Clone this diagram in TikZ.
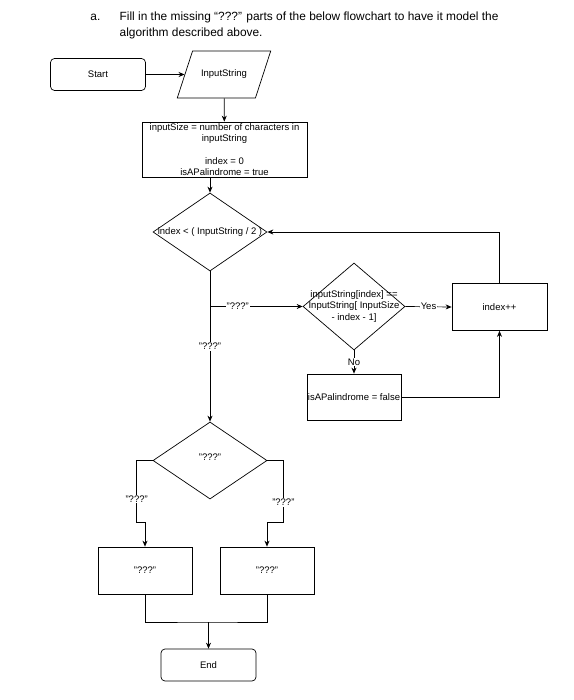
\documentclass[tikz,border=0pt]{standalone}
\usepackage{fontspec}
\setmainfont{Liberation Sans}
\usetikzlibrary{shapes.geometric,arrows.meta}
\begin{document}
\begin{tikzpicture}[x=1pt,y=-1pt,line width=0.7pt,
	font=\fontsize{9.5}{11.2}\selectfont,
	term/.style={draw,rounded corners=4pt,minimum width=95pt,minimum height=32pt,inner sep=0pt},
	proc/.style={draw,minimum width=95pt,minimum height=47pt,inner sep=0pt,align=center},
	io/.style={draw,trapezium,trapezium left angle=72,trapezium right angle=108,inner xsep=8.5pt,inner ysep=19pt},
	dec/.style={draw,diamond,inner sep=0pt},
	lbl/.style={fill=white,inner sep=1pt},
	arr/.style={-{Stealth[length=6pt,width=5pt]}}]
	\useasboundingbox (0,0) rectangle (573,700);
	\node[anchor=base east,font=\fontsize{11.9}{16}\selectfont] (qa) at (104,21) {a.};
	\node[anchor=base west,font=\fontsize{11.9}{16}\selectfont] (q1) at (116,21) {Fill in the missing “???” parts of the below flowchart to have it model the};
	\node[anchor=base west,font=\fontsize{11.9}{16}\selectfont] (q2) at (116,37) {algorithm described above.};
	\node[term] (start) at (98,74.5) {Start};
	\node[io] (input) at (224,74.5) {InputString};
	\node[proc,minimum width=165pt,minimum height=55pt] (init) at (224.5,149.5) {inputSize = number of characters in\\inputString\\[11.2pt]index = 0\\isAPalindrome = true};
	\node[dec,minimum width=114pt,minimum height=78pt,label={center:index < ( InputString / 2 )}] (loop) at (210,232) {};
	\node[dec,minimum width=102pt,minimum height=87pt,label={[align=center]center:{inputString[index] ==\\InputString[ InputSize\\- index - 1]}}] (check) at (354,306.5) {};
	\node[proc] (inc) at (499.5,307) {index++};
	\node[proc,minimum width=94pt,minimum height=46pt] (flag) at (354,397) {isAPalindrome = false};
	\node[dec,minimum width=114pt,minimum height=77pt,label={[yshift=3pt]center:"???"}] (cond) at (210,460.5) {};
	\node[proc,minimum width=94pt] (left) at (145,570.5) {"???"};
	\node[proc,minimum width=94pt] (right) at (267,570.5) {"???"};
	\node[term] (end) at (208.5,665) {End};
	\coordinate (join) at (208.5,622);
	\draw[arr] (start) -- (input);
	\draw[arr] (input) -- (init);
	\draw[arr] (init.south -| loop.north) -- (loop.north);
	\draw[arr] (loop.south) -- node[lbl]{"???"} (cond.north);
	\draw[arr] (loop.south |- check.west) -- node[lbl,pos=0.3]{"???"} (check.west);
	\draw[arr] (check.east) -- node[lbl]{Yes} (inc.west);
	\draw[arr] (check.south) -- node[lbl]{No} (flag.north);
	\draw[arr] (flag.east) -| (inc.south);
	\draw[arr] (inc.north) |- (loop.east);
	\draw[arr] (cond.west) -- ++(-16,0) -- node[lbl,pos=0.62]{"???"} ++(0,62) -| (left.north);
	\draw[arr] (cond.east) -- ++(16,0) -- node[lbl,pos=0.68]{"???"} ++(0,62) -| (right.north);
	\draw (left.south) |- (join) -| (right.south);
	\draw[arr] (join) -- (end);
\end{tikzpicture}
\end{document}
